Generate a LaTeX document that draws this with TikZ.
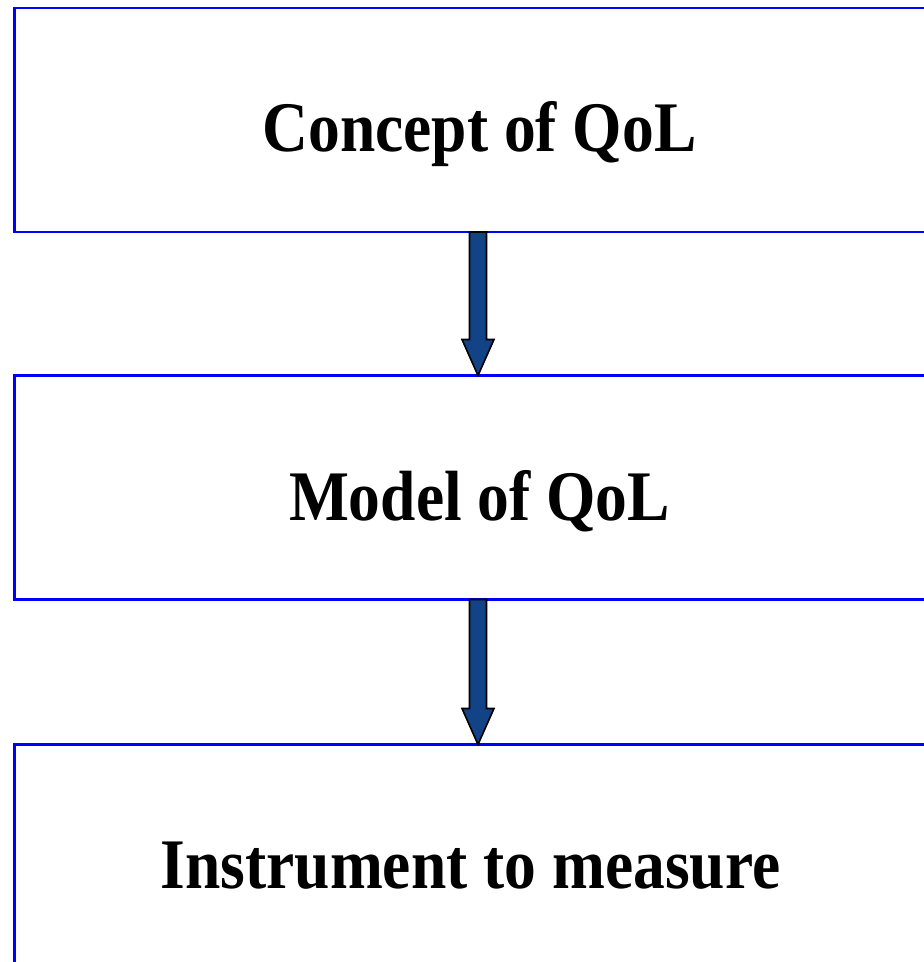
\documentclass[tikz,border=0pt]{standalone}
\usepackage{fontspec}
\setmainfont{Liberation Serif}
\usepackage{graphicx}
\usetikzlibrary{calc}
\definecolor{boxblue}{RGB}{0,0,255}
\definecolor{arrowfill}{RGB}{17,67,134}
\tikzset{
  box/.style={draw=boxblue, line width=2.6pt, rectangle, inner sep=0pt, outer sep=0pt,
    minimum width=1000pt, minimum height=224pt, anchor=north west},
  label/.style={inner sep=0pt, anchor=base, font=\fontsize{63.5}{70}\selectfont\bfseries},
  fatarrow/.style={draw=black, line width=1.6pt, fill=arrowfill, line join=miter}
}
\newcommand\fatarrow[2]{%
  \draw[fatarrow] ($(#1.south -| ax)+(-8.5,0)$)
    -- ($(#2.north -| ax)+(-8.5,-36)$)
    -- ($(#2.north -| ax)+(-16,-36)$)
    -- (#2.north -| ax)
    -- ($(#2.north -| ax)+(16,-36)$)
    -- ($(#2.north -| ax)+(8.5,-36)$)
    -- ($(#1.south -| ax)+(8.5,0)$) -- cycle;}
\begin{document}
\begin{tikzpicture}[x=1pt,y=-1pt]
  \useasboundingbox (0,0) rectangle (924,962);
  \clip (0,0) rectangle (924,962);
  \fill[white] (0,0) rectangle (924,962);
  \coordinate (ax) at (478,0);
  \node[box] (box1) at (14.5,8) {};
  \node[box] (box2) at (14.5,375.5) {};
  \node[box] (box3) at (14.5,744.5) {};
  \node[label] (t1) at (479.5,151) {\scalebox{1}[1.12]{Concept of QoL}};
  \node[label] (t2) at (479.5,520) {\scalebox{1}[1.12]{Model of QoL}};
  \node[label] (t3) at (470.5,888) {\scalebox{1}[1.12]{Instrument to measure}};
  \fatarrow{box1}{box2}
  \fatarrow{box2}{box3}
\end{tikzpicture}
\end{document}
